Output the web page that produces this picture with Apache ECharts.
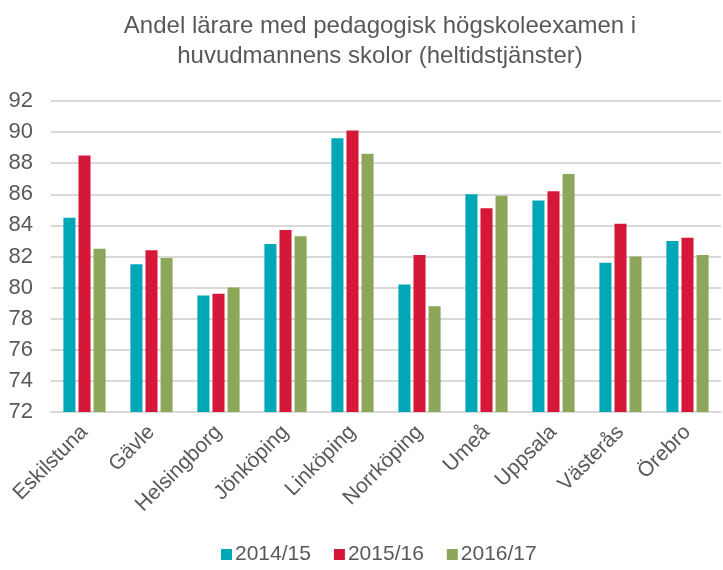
<!DOCTYPE html>
<html>
<head>
<meta charset="utf-8">
<script src="https://cdn.jsdelivr.net/npm/echarts@6/dist/echarts.min.js"></script>
<style>
  html, body { margin: 0; padding: 0; background: #fff; }
  #chart { width: 723px; height: 570px; }
</style>
</head>
<body>
<div id="chart"></div>
<script>
const cities = ['Eskilstuna', 'Gävle', 'Helsingborg', 'Jönköping', 'Linköping', 'Norrköping', 'Umeå', 'Uppsala', 'Västerås', 'Örebro'];
const years = ['2014/15', '2015/16', '2016/17'];
const v2014 = [84.5, 81.5, 79.5, 82.8, 89.6, 80.2, 86.0, 85.6, 81.6, 83.0];
const v2015 = [88.5, 82.4, 79.6, 83.7, 90.1, 82.1, 85.1, 86.2, 84.1, 83.2];
const v2016 = [82.5, 81.9, 80.0, 83.3, 88.6, 78.8, 85.9, 87.3, 82.0, 82.1];
const colors = ['#00A8B7', '#D5173A', '#8DA75A'];

const font = 'Liberation Sans, Arial, sans-serif';
const chart = echarts.init(document.getElementById('chart'));

const option = {
  animation: false,
  color: colors,
  title: {
    text: 'Andel lärare med pedagogisk högskoleexamen i\nhuvudmannens skolor (heltidstjänster)',
    left: 375,
    textAlign: 'center',
    top: 6,
    textStyle: {
      fontFamily: font,
      fontSize: 24,
      fontWeight: 'normal',
      color: '#595959',
      lineHeight: 30
    }
  },
  legend: {
    bottom: 0,
    left: 216,
    itemWidth: 11,
    itemHeight: 11,
    itemGap: 23,
    icon: 'rect',
    textStyle: { fontFamily: font, fontSize: 21, color: '#595959', padding: [0, 0, 0, -2] },
    data: years
  },
  grid: {
    left: 51,
    right: 2,
    top: 101,
    bottom: 158
  },
  xAxis: {
    type: 'category',
    data: cities,
    axisTick: { show: false },
    axisLine: { lineStyle: { color: '#d9d9d9', width: 2 } },
    axisLabel: {
      rotate: 45,
      margin: 17,
      interval: 0,
      fontFamily: font,
      fontSize: 21,
      color: '#595959'
    }
  },
  yAxis: {
    type: 'value',
    min: 72,
    max: 92,
    interval: 2,
    axisLine: { show: false },
    axisTick: { show: false },
    axisLabel: {
      margin: 18,
      fontFamily: font,
      fontSize: 22,
      color: '#595959'
    },
    splitLine: { lineStyle: { color: '#d9d9d9', width: 2 } }
  },
  series: [
    { name: years[0], type: 'bar', data: v2014, barGap: '25%', barCategoryGap: '37%' },
    { name: years[1], type: 'bar', data: v2015, barGap: '25%', barCategoryGap: '37%' },
    { name: years[2], type: 'bar', data: v2016, barGap: '25%', barCategoryGap: '37%' }
  ]
};

chart.setOption(option);
</script>
</body>
</html>
